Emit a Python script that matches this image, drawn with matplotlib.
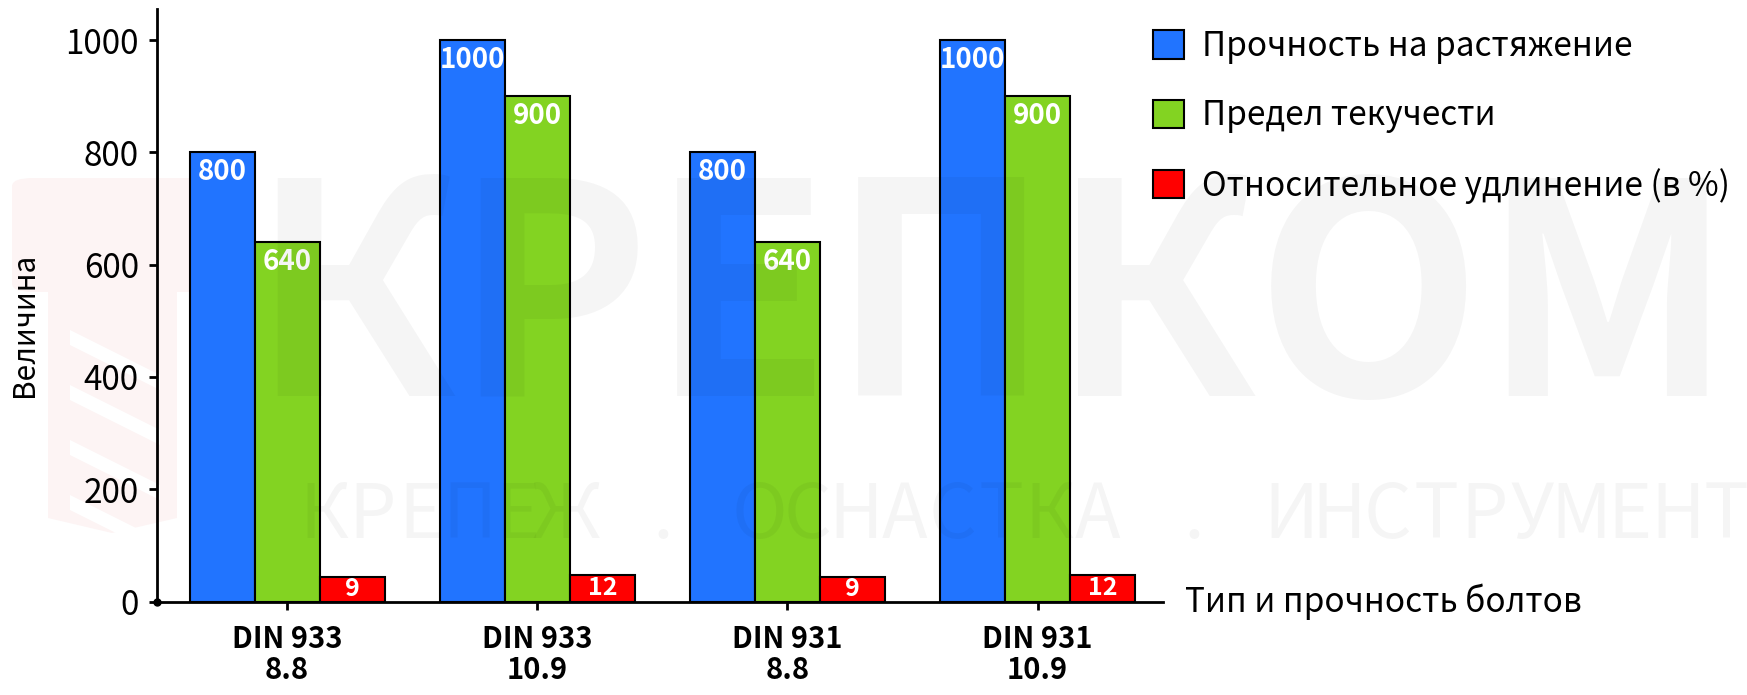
import matplotlib
matplotlib.use('Agg')
import matplotlib.pyplot as plt
import numpy as np
from matplotlib.patches import FancyBboxPatch, Polygon

plt.rcParams['font.family'] = ['Noto Sans CJK SC', 'DejaVu Sans']

# данные
categories = ['DIN 933\n8.8', 'DIN 933\n10.9', 'DIN 931\n8.8', 'DIN 931\n10.9']
tensile = [800, 1000, 800, 1000]
yield_strength = [640, 900, 640, 900]
elongation = [9, 12, 9, 12]
elongation_drawn = [44, 48, 44, 48]   # высота красных столбцов как на картинке
series_names = ['Прочность на растяжение', 'Предел текучести',
                'Относительное удлинение (в %)']
colors = ['#2174ff', '#83d322', '#ff0000']

W, H = 1747, 695
fig = plt.figure(figsize=(W / 100, H / 100), dpi=100)


def px(x, y):
    return x / W, 1 - y / H


# водяной знак: логотип слева
logo_c = '#fdf4f4'
x0, y0 = px(12, 292)
x1, y1 = px(215, 178)
fig.patches.append(FancyBboxPatch((x0, y0), x1 - x0, y1 - y0,
                                  boxstyle='round,pad=0,rounding_size=0.012',
                                  transform=fig.transFigure, fc=logo_c, ec='none', zorder=-5))
stem = [px(48, 292), px(177, 292), px(177, 518), px(112, 533), px(48, 518)]
fig.patches.append(Polygon(stem, closed=True, transform=fig.transFigure,
                           fc=logo_c, ec='none', zorder=-5))
for k in range(4):
    yy = 330 + k * 55
    stripe = [px(70, yy), px(160, yy + 45), px(160, yy + 60), px(70, yy + 15)]
    fig.patches.append(Polygon(stripe, closed=True, transform=fig.transFigure,
                               fc='white', ec='none', zorder=-4))

ax = fig.add_axes([157 / W, 1 - 601.5 / H, 1005.6 / W, 592.2 / H])
ax.patch.set_visible(False)

x = np.arange(len(categories))
w = 0.26
b1 = ax.bar(x - w, tensile, w, color=colors[0], edgecolor='black', linewidth=1.5,
            label=series_names[0], zorder=3)
b2 = ax.bar(x, yield_strength, w, color=colors[1], edgecolor='black', linewidth=1.5,
            label=series_names[1], zorder=3)
b3 = ax.bar(x + w, elongation_drawn, w, color=colors[2], edgecolor='black', linewidth=1.5,
            label=series_names[2], zorder=3)

for bars, vals in ((b1, tensile), (b2, yield_strength)):
    for r, v in zip(bars, vals):
        ax.annotate(str(v), (r.get_x() + r.get_width() / 2, r.get_height()),
                    xytext=(0, -4), textcoords='offset points', ha='center', va='top',
                    color='white', fontsize=20, fontweight='bold', zorder=4)
ax.bar_label(b3, labels=[str(v) for v in elongation], label_type='center',
             color='white', fontsize=18, fontweight='bold', zorder=4)

ax.set_xlim(-0.52, 3.50)
ax.set_ylim(0, 1055)
ax.set_yticks([0, 200, 400, 600, 800, 1000])
ax.set_xticks(x)
ax.set_xticklabels(categories, fontsize=21, fontweight='bold', linespacing=1.05)
ax.tick_params(axis='y', labelsize=24, length=6, width=2, pad=7)
ax.tick_params(axis='x', length=6, width=2, pad=10)
for s in ('top', 'right'):
    ax.spines[s].set_visible(False)
for s in ('left', 'bottom'):
    ax.spines[s].set_linewidth(2)
ax.plot(ax.get_xlim()[0], 0, 'o', color='black', ms=5, clip_on=False, zorder=5)

ax.set_ylabel('Величина', fontsize=21.5, ha='center', va='center')
ax.yaxis.set_label_coords(-0.132, 0.467)
ax.set_xlabel('Тип и прочность болтов', fontsize=24, ha='left', va='center')
ax.xaxis.set_label_coords(1.022, 0.0)

fig.legend(handles=[b1, b2, b3], loc='upper left', bbox_to_anchor=px(1153, 29),
           frameon=False, fontsize=24, handlelength=0.93, handleheight=0.93,
           handletextpad=0.55, labelspacing=1.03, borderpad=0, borderaxespad=0)

# водяной знак: текст
fig.text(*px(250, 396), 'КРЕПКОМ', fontsize=212, fontweight='heavy',
         color='black', alpha=0.04, ha='left', va='baseline', zorder=10)
line2 = 'КРЕПЕЖ . ОСНАСТКА . ИНСТРУМЕНТ'
step = (1750 - 300) / len(line2)
for i, ch in enumerate(line2):
    if ch != ' ':
        fig.text(*px(300 + step * (i + 0.5), 538), ch, fontsize=54,
                 color='black', alpha=0.04, ha='center', va='baseline', zorder=10)

fig.savefig('out.png', dpi=100)
